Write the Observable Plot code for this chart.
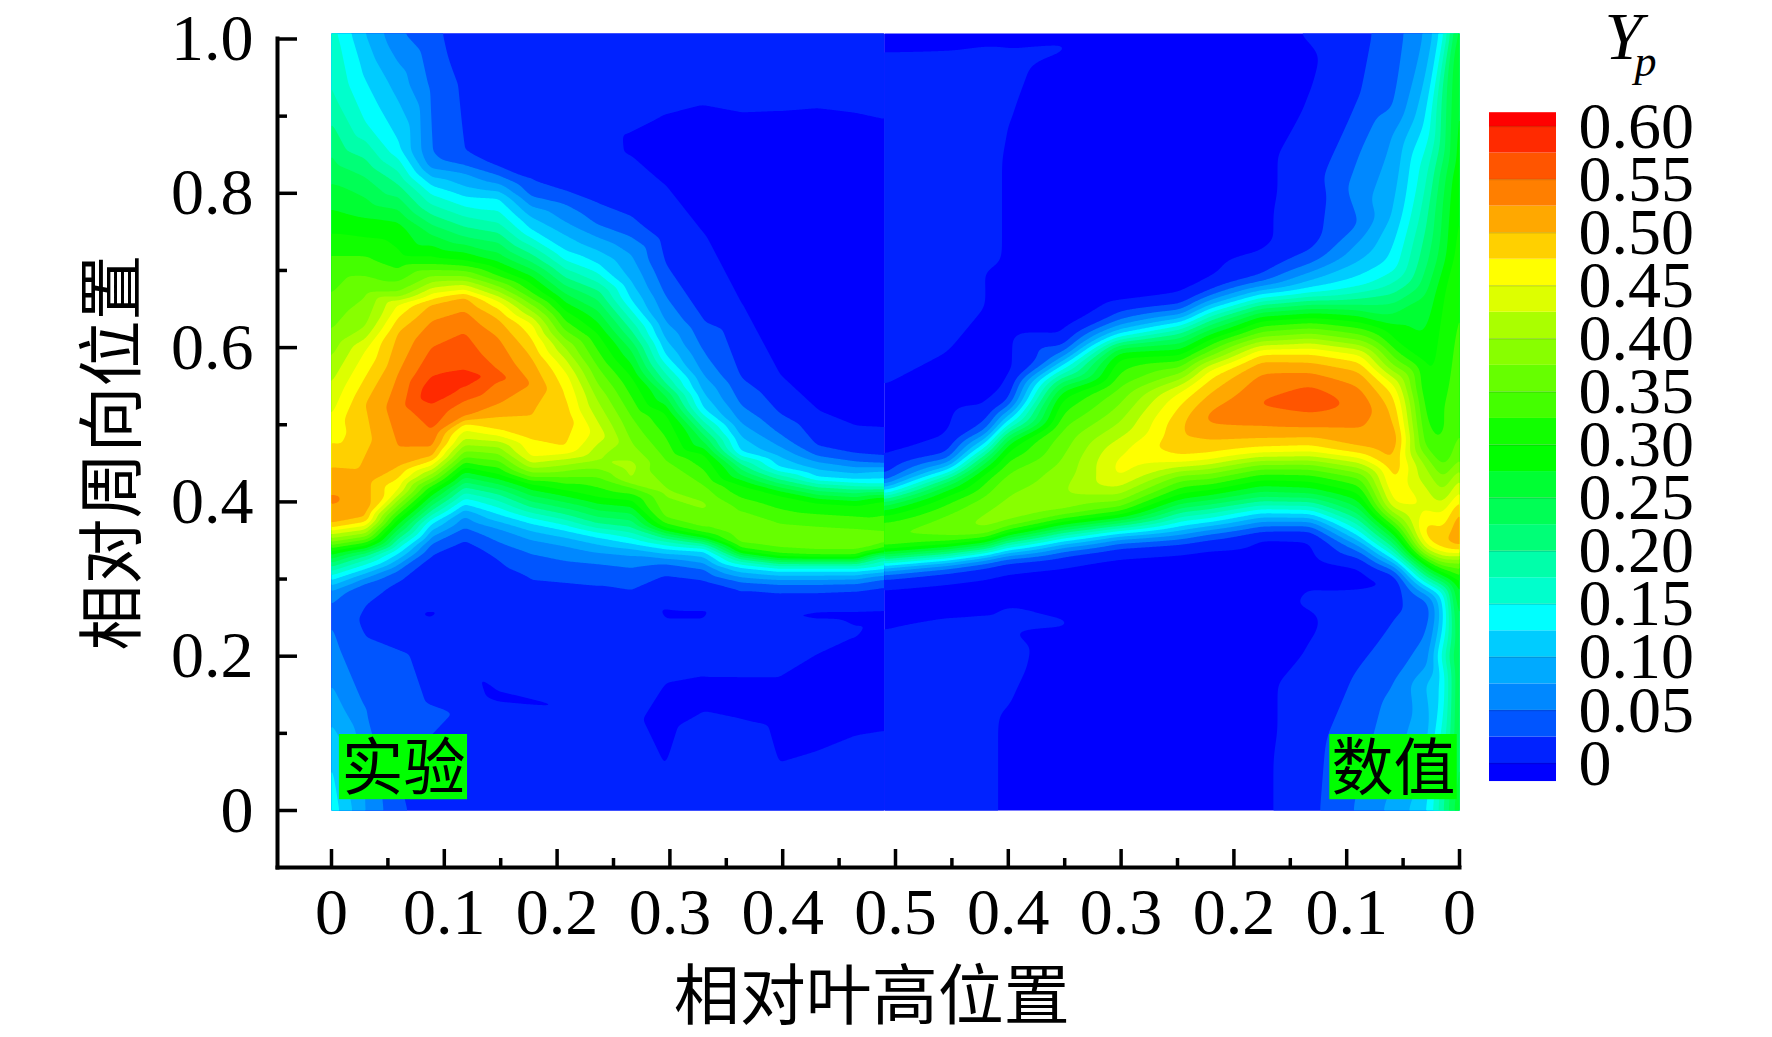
<!DOCTYPE html>
<html><head><meta charset="utf-8">
<style>body{margin:0;background:#fff;position:relative;width:1772px;height:1037px;overflow:hidden}
#main,#bar{position:absolute;left:0;top:0}#bar{pointer-events:none}</style>
<script src="https://cdn.jsdelivr.net/npm/d3@7"></script>
<script src="https://cdn.jsdelivr.net/npm/@observablehq/plot@0.6"></script>
</head><body><div id="main"></div><div id="bar"></div>
<script>
const serif="'Liberation Serif',serif", cjk="'Noto Sans CJK SC',sans-serif";
const xMajor=[0,.1,.2,.3,.4,.5,.6,.7,.8,.9,1];
const xMinor=[.05,.15,.25,.35,.45,.55,.65,.75,.85,.95];
const yMajor=[0,.2,.4,.6,.8,1];
const yMinor=[.1,.3,.5,.7,.9];
const levels=[-1,0,.025,.05,.075,.1,.125,.15,.175,.2,.225,.25,.275,.3,.325,.35,.375,.4,.425,.45,.475,.5,.525,.55,.575,.6];
const colors=["#0000ff","#0022ff","#0055ff","#0088ff","#00aaff","#00ccff","#00ffff","#00ffcc","#00ffaa","#00ff77","#00ff55","#00ff33","#00ff00","#11ff00","#44ff00","#66ff00","#88ff00","#aaff00","#ddff00","#ffff00","#ffd000","#ffa800","#ff7f00","#ff5500","#ff2a00","#ff0000"];
const barTicks=[0,.05,.1,.15,.2,.25,.3,.35,.4,.45,.5,.55,.6];
// Experiment side: [x, y list, Yp list]
const experiment=[
[0,[1.007,.925,.826,.759,.713,.670,.614,.561,.495,.445,.402,.371,.363,.349,.336,.316,.300,.283,.263,.197,.131,.065,0],
[.16,.18,.24,.29,.33,.35,.38,.42,.46,.5,.53,.5,.45,.38,.30,.20,.13,.07,.045,.06,.09,.125,.14]],
[.03,[1.007,.958,.892,.826,.773,.713,.673,.627,.596,.562,.527,.429,.389,.380,.373,.359,.343,.330,.313,.300,.287,.244,.131,0],
[.10,.12,.15,.22,.27,.33,.37,.40,.45,.475,.5,.51,.51,.5,.47,.4,.3,.2,.125,.07,.03,.02,.05,.075]],
[.059,[1.007,.941,.859,.812,.759,.713,.691,.670,.656,.639,.620,.566,.520,.471,.445,.430,.415,.397,.372,.337,.311,.298,.052,0],
[.055,.09,.13,.2,.28,.31,.34,.38,.45,.475,.5,.525,.54,.525,.5,.475,.45,.38,.28,.14,.05,.025,.025,.03]],
[.089,[1.007,.941,.855,.839,.812,.793,.746,.713,.691,.670,.662,.657,.635,.601,.564,.540,.527,.493,.471,.458,.454,.447,.436,.415,.389,.372,.346,.333,.27,.253,.24,0],
[.03,.045,.05,.06,.12,.16,.25,.31,.38,.45,.475,.5,.525,.55,.575,.595,.575,.55,.525,.5,.475,.45,.4,.3,.2,.125,.05,.025,.012,-.004,.012,.012]],
[.118,[1.007,.941,.855,.836,.826,.809,.796,.746,.713,.691,.678,.670,.666,.648,.620,.570,.562,.549,.531,.510,.506,.501,.493,.480,.458,.445,.419,.397,.384,.367,.346,0],
[.015,.02,.025,.05,.075,.1,.125,.22,.30,.38,.44,.47,.5,.525,.55,.575,.595,.575,.55,.525,.5,.475,.45,.42,.35,.3,.2,.125,.08,.05,.02,.012]],
[.148,[1.007,.842,.832,.819,.806,.796,.759,.713,.691,.678,.665,.657,.648,.637,.613,.570,.562,.557,.527,.510,.493,.486,.471,.436,.410,.384,.363,.333,.307,.17,.148,.125,0],
[.012,.015,.03,.06,.09,.12,.18,.27,.33,.38,.43,.46,.48,.5,.525,.55,.565,.55,.525,.5,.475,.45,.4,.3,.2,.125,.07,.03,.015,.012,-.005,.012,.012]],
[.177,[1.007,.816,.796,.783,.769,.753,.713,.691,.670,.648,.635,.627,.613,.588,.553,.512,.480,.458,.449,.432,.423,.393,.372,.354,.333,.302,0],
[.012,.025,.05,.075,.1,.125,.22,.28,.33,.4,.44,.46,.475,.5,.525,.5,.475,.45,.42,.35,.3,.2,.125,.08,.05,.025,.012]],
[.207,[1.007,.802,.786,.763,.746,.726,.713,.691,.670,.648,.627,.600,.583,.562,.540,.510,.471,.462,.454,.432,.415,.384,.363,.346,.324,.298,0],
[.012,.025,.05,.075,.1,.125,.15,.2,.25,.3,.34,.4,.43,.46,.475,.49,.475,.45,.42,.35,.3,.2,.125,.08,.05,.025,.012]],
[.236,[1.007,.786,.759,.743,.726,.709,.687,.670,.648,.618,.575,.531,.488,.454,.432,.406,.372,.354,.337,.320,.294,0],
[.012,.025,.05,.075,.1,.125,.17,.21,.25,.3,.35,.4,.44,.4,.35,.3,.2,.125,.08,.05,.025,.012]],
[.266,[1.007,.855,.769,.743,.720,.685,.661,.622,.596,.562,.510,.471,.445,.428,.419,.402,.385,.367,.346,.333,.315,.287,.12,0],
[.012,-.002,.025,.05,.075,.1,.125,.2,.25,.3,.35,.38,.41,.4,.35,.3,.25,.2,.125,.08,.05,.025,.003,.012]],
[.296,[1.007,.902,.859,.809,.746,.707,.667,.634,.611,.591,.554,.538,.515,.455,.412,.379,.366,.353,.339,.320,.306,.277,.253,.24,.165,.115,.058,.04,0],
[.012,0,-.006,0,.015,.025,.05,.075,.1,.125,.2,.25,.3,.35,.38,.35,.3,.2,.125,.05,.025,.012,-.006,.012,0,-.006,0,.012,.012]],
[.33,[1.007,.915,.826,.746,.634,.594,.564,.541,.521,.495,.478,.462,.422,.396,.366,.356,.346,.336,.313,.300,.27,.253,.24,.174,.15,.128,.1,0],
[.012,0,-.006,0,.025,.05,.075,.1,.125,.2,.25,.3,.35,.38,.35,.3,.2,.125,.05,.025,.012,-.006,.012,0,-.005,0,.012,.012]],
[.363,[1.007,.906,.779,.654,.561,.525,.502,.485,.465,.449,.435,.422,.389,.363,.346,.336,.326,.315,.296,.287,.2,.174,.146,.118,.09,0],
[.012,0,-.006,0,.025,.05,.075,.1,.125,.2,.25,.3,.35,.37,.35,.3,.2,.125,.05,.025,.012,0,-.005,0,.012,.012]],
[.397,[1.007,.908,.740,.561,.515,.488,.472,.459,.445,.429,.419,.409,.373,.356,.339,.329,.320,.310,.293,.283,.26,.253,.245,.174,.12,.06,.04,0],
[.012,0,-.006,0,.025,.05,.075,.1,.125,.2,.25,.3,.35,.36,.35,.3,.2,.125,.05,.025,.01,-.002,.01,0,-.005,0,.012,.012]],
[.431,[1.007,.912,.713,.515,.472,.459,.452,.442,.432,.419,.409,.399,.369,.353,.336,.328,.320,.310,.293,.283,.262,.253,.243,.204,.14,.075,.05,0],
[.012,0,-.006,0,.025,.05,.075,.1,.125,.2,.25,.3,.35,.36,.35,.3,.2,.125,.05,.025,.006,-.005,.006,0,-.005,0,.012,.012]],
[.465,[1.007,.906,.707,.495,.462,.452,.445,.437,.429,.416,.406,.396,.366,.353,.336,.328,.320,.310,.294,.285,.262,.253,.238,.232,.227,.16,.095,.07,0],
[.012,0,-.006,0,.025,.05,.075,.1,.125,.2,.25,.3,.35,.36,.35,.3,.2,.125,.05,.025,.004,-.004,0,.004,0,-.005,0,.012,.012]],
[.49,[1.007,.898,.7,.493,.459,.45,.44,.425,.402,.363,.35,.336,.329,.313,.300,.290,.262,.253,.101,.06,0],
[.012,0,-.006,0,.025,.05,.1,.14,.3,.35,.36,.3,.2,.125,.05,.025,.003,-.005,0,.012,.012]]
];
// Numerical side: [x, y list, Yp list]
const numerical=[
[.49,[1.007,.98,.97,.760,.65,.551,.495,.455,.432,.425,.419,.412,.396,.382,.363,.353,.336,.326,.318,.306,.300,.293,.263,.234,.164,.08,0],
[-.004,0,.004,.012,.008,0,-.006,0,.025,.05,.1,.14,.25,.3,.35,.36,.3,.2,.125,.05,.025,0,-.006,0,.012,.012,.012]],
[.546,[1.007,.98,.97,.825,.70,.594,.528,.482,.462,.454,.445,.439,.422,.409,.389,.369,.353,.343,.333,.324,.315,.308,.300,.270,.249,.225,.15,.07,0],
[-.004,0,.008,.012,.008,0,-.006,0,.025,.05,.1,.14,.25,.3,.34,.37,.35,.3,.2,.125,.05,.025,0,-.006,0,.008,.012,.012,.012]],
[.58,[1.007,.988,.97,.825,.74,.654,.574,.521,.502,.492,.482,.472,.452,.439,.409,.382,.363,.349,.339,.331,.322,.315,.306,.276,.253,.23,.15,.07,0],
[-.004,0,.008,.012,.012,0,-.006,0,.025,.05,.1,.14,.25,.3,.35,.38,.38,.3,.2,.125,.05,.025,0,-.006,0,.006,.006,.006,.006]],
[.6,[1.007,.988,.97,.888,.85,.78,.70,.62,.56,.549,.531,.521,.513,.502,.482,.468,.439,.402,.375,.359,.348,.337,.328,.321,.313,.283,.263,.257,.234,.2,.135,.1,.05,0],
[-.004,0,.003,0,-.005,-.005,-.005,-.005,-.004,0,.025,.05,.1,.14,.25,.3,.35,.38,.385,.3,.2,.125,.05,.025,0,-.006,0,.003,0,.003,0,-.005,-.005,-.005]],
[.648,[1.007,.988,.968,.88,.78,.7,.62,.614,.601,.591,.584,.574,.551,.535,.495,.449,.409,.389,.373,.360,.349,.337,.328,.321,.290,.25,.245,.238,.23,.15,.07,0],
[-.004,.002,-.004,-.005,-.005,-.005,-.003,0,.025,.05,.1,.14,.25,.3,.35,.38,.40,.38,.3,.2,.125,.05,.025,0,-.006,-.001,.002,.002,-.004,-.006,-.006,-.006]],
[.698,[1.007,.92,.84,.76,.67,.657,.647,.634,.624,.614,.601,.587,.548,.502,.462,.442,.429,.409,.392,.382,.369,.359,.348,.339,.333,.303,.23,.15,.07,0],
[-.006,-.006,-.006,-.006,-.006,0,.025,.05,.1,.14,.25,.3,.35,.4,.45,.46,.45,.4,.35,.3,.2,.125,.05,.025,0,-.006,-.006,-.006,-.006,-.006]],
[.753,[1.007,.92,.84,.76,.70,.665,.657,.648,.637,.631,.614,.590,.566,.544,.527,.497,.477,.460,.449,.441,.428,.410,.397,.387,.372,.363,.352,.346,.337,.315,.24,.16,.08,0],
[-.006,-.006,-.006,-.006,-.006,0,.025,.05,.1,.14,.22,.3,.375,.45,.475,.5,.5,.475,.45,.4,.35,.3,.25,.2,.14,.1,.05,.025,0,-.006,-.006,-.006,-.006,-.006]],
[.779,[1.007,.92,.84,.76,.72,.685,.674,.668,.655,.648,.631,.611,.588,.573,.560,.542,.518,.510,.501,.480,.462,.454,.443,.430,.415,.402,.391,.376,.369,.359,.352,.341,.324,.24,.16,.08,0],
[-.006,-.006,-.006,-.006,-.006,0,.025,.05,.1,.14,.22,.3,.375,.45,.475,.5,.525,.535,.525,.5,.475,.45,.4,.35,.3,.25,.2,.14,.1,.05,.025,0,-.006,-.006,-.006,-.006,-.006]],
[.824,[1.007,.93,.86,.79,.74,.725,.704,.693,.685,.674,.666,.652,.635,.613,.598,.592,.583,.568,.531,.528,.525,.497,.482,.471,.462,.454,.443,.428,.413,.400,.389,.380,.369,.361,.357,.337,.26,.18,.09,0],
[-.006,-.006,-.006,-.006,-.006,0,.012,.025,.05,.1,.14,.22,.3,.375,.45,.475,.5,.525,.55,.565,.55,.525,.5,.475,.45,.4,.35,.3,.25,.2,.14,.1,.05,.025,0,-.006,-.006,-.006,-.006,-.006]],
[.868,[1.007,.97,.925,.826,.733,.713,.687,.673,.657,.639,.618,.600,.592,.581,.568,.551,.531,.516,.495,.484,.473,.464,.454,.443,.426,.410,.400,.387,.380,.369,.363,.354,.324,.284,.273,.263,.238,.214,.131,0],
[.002,-.004,0,.012,.018,.04,.1,.14,.22,.3,.375,.45,.475,.5,.525,.55,.57,.55,.525,.5,.475,.45,.4,.35,.3,.25,.2,.14,.1,.05,.025,0,-.006,0,.004,0,-.002,0,.012,.018]],
[.912,[1.007,.925,.759,.74,.713,.683,.657,.633,.609,.592,.581,.570,.549,.523,.495,.469,.462,.458,.443,.432,.410,.391,.376,.359,.348,.337,.328,.317,.302,.285,.272,.164,0],
[.018,.025,.05,.075,.1,.14,.22,.3,.375,.45,.475,.5,.525,.545,.525,.5,.475,.45,.4,.35,.3,.25,.2,.14,.1,.05,.025,0,-.006,0,.008,.03,.055]],
[.942,[1.007,.91,.876,.777,.705,.670,.627,.609,.575,.553,.540,.510,.480,.449,.415,.395,.384,.374,.363,.352,.341,.328,.322,.313,.307,.298,.292,.281,.263,.164,0],
[.038,.05,.075,.1,.14,.2,.28,.3,.375,.45,.475,.5,.525,.5,.475,.45,.4,.35,.3,.25,.2,.14,.1,.05,.025,0,-.002,.01,.02,.05,.085]],
[.971,[1.007,.888,.826,.759,.713,.670,.583,.540,.480,.445,.391,.372,.367,.355,.341,.333,.320,.302,.294,.285,.277,.259,.2,.1,0],
[.078,.13,.17,.2,.22,.25,.29,.3,.33,.4,.45,.475,.5,.49,.45,.4,.3,.2,.14,.1,.05,.03,.06,.09,.12]],
[.986,[1.007,.826,.713,.670,.583,.497,.454,.410,.384,.363,.354,.346,.339,.333,.324,.307,.292,.281,.263,.246,.164,0],
[.14,.24,.27,.3,.31,.32,.33,.4,.45,.475,.5,.5,.475,.45,.4,.3,.2,.14,.12,.12,.13,.2]],
[1,[1.007,.826,.713,.497,.454,.419,.402,.393,.371,.354,.341,.335,.328,.30,.25,.2,0],
[.28,.3,.32,.35,.38,.45,.475,.5,.525,.525,.5,.475,.4,.32,.28,.27,.28]]
];
const flat=c=>c.flatMap(([x,ys,vs])=>ys.map((y,i)=>({x,y,v:vs[i]})));
const tags=[{t:"实验",x1:.007,x2:.1206,y1:.014,y2:.0985},{t:"数值",x1:.885,x2:.998,y1:.014,y2:.0985}];
const xFmt=d=>{const m=d<=.5?d:1-d;return m<.001?"0":m.toFixed(1)};
const yFmt=d=>d===0?"0":d.toFixed(1);
const contourOpts=(x1,x2,blur)=>({x:"x",y:"y",fill:"v",interpolate:"barycentric",thresholds:levels,pixelSize:1,blur,x1,x2,y1:0,y2:1.007});
const main=Plot.plot({
 width:1772,height:1037,marginLeft:277,marginRight:313,marginTop:38,marginBottom:170,
 style:{background:"#fff"},
 x:{domain:[0,1],range:[331,1459],axis:null},
 y:{domain:[0,1],range:[810,38.5],axis:null},
 color:{type:"threshold",domain:levels.slice(1),range:colors},
 marks:[
  Plot.contour(flat(experiment),contourOpts(0,.49,2)),
  Plot.contour(flat(numerical),contourOpts(.49,1,5)),
  Plot.rect(tags,{x1:"x1",x2:"x2",y1:"y1",y2:"y2",fill:"#00ff00"}),
  Plot.text(tags,{x:d=>(d.x1+d.x2)/2,y:d=>(d.y1+d.y2)/2,dy:3,text:"t",fontFamily:cjk,fontSize:62,fill:"#000"}),
  Plot.frame({anchor:"left",strokeWidth:4,stroke:"#000"}),
  Plot.frame({anchor:"bottom",strokeWidth:4,stroke:"#000"}),
  Plot.axisX(xMajor,{tickSize:-18,tickFormat:null,strokeWidth:3.5,stroke:"#000",text:null}),
  Plot.axisX(xMinor,{tickSize:-9,tickFormat:null,strokeWidth:3.5,stroke:"#000",text:null}),
  Plot.axisX(xMajor,{tickSize:0,tickPadding:20,tickFormat:xFmt,fontSize:66,fontFamily:serif,fill:"#000",label:null}),
  Plot.axisY(yMajor,{tickSize:-20,tickFormat:null,strokeWidth:3.5,stroke:"#000",text:null}),
  Plot.axisY(yMinor,{tickSize:-10,tickFormat:null,strokeWidth:3.5,stroke:"#000",text:null}),
  Plot.axisY(yMajor,{tickSize:0,tickPadding:24,tickFormat:yFmt,fontSize:66,fontFamily:serif,fill:"#000",label:null}),
  Plot.text(["相对叶高位置"],{x:()=>.479,frameAnchor:"bottom",dy:130,lineAnchor:"middle",fontFamily:cjk,fontSize:66,fill:"#000"}),
  Plot.text(["相对周向位置"],{x:()=>-.193,y:()=>.464,rotate:-90,fontFamily:cjk,fontSize:66,fill:"#000"})
 ]
});
document.getElementById("main").append(main);
const bands=levels.map((l,i)=>({lo:i?l:-.017,hi:i<levels.length-1?levels[i+1]:.613,c:colors[i]}));
const bar=Plot.plot({
 width:1772,height:1037,margin:0,
 style:{background:"transparent"},
 x:{domain:[0,1],range:[1489,1556],axis:null},
 y:{domain:[0,.6],range:[763,126],axis:null},
 marks:[
  Plot.rect(bands,{x1:()=>0,x2:()=>1,y1:"lo",y2:"hi",fill:"c"}),
  Plot.ruleY(barTicks,{stroke:"#000",strokeOpacity:.12,strokeWidth:1.5,x1:()=>0,x2:()=>1}),
  Plot.text(barTicks,{x:()=>1,y:d=>d,dx:22,textAnchor:"start",text:d=>d===0?"0":d.toFixed(2),fontFamily:serif,fontSize:66,fill:"#000"}),
  Plot.text(["Y"],{frameAnchor:"top-left",dx:1604,dy:10,textAnchor:"start",fontFamily:serif,fontStyle:"italic",fontSize:68,fill:"#000"}),
  Plot.text(["p"],{frameAnchor:"top-left",dx:1634,dy:44,textAnchor:"start",fontFamily:serif,fontStyle:"italic",fontSize:44,fill:"#000"})
 ]
});
document.getElementById("bar").append(bar);
</script></body></html>
